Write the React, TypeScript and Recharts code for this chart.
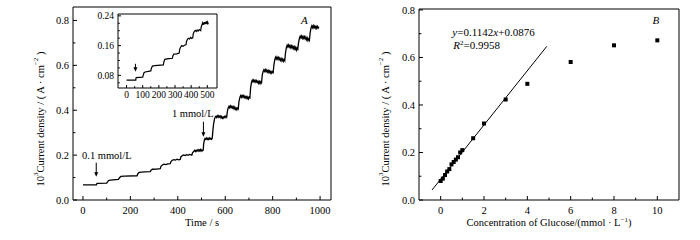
import {
  LineChart,
  ComposedChart,
  Line,
  Scatter,
  XAxis,
  YAxis,
  ReferenceArea,
  ReferenceDot,
  Label,
} from 'recharts'

const FONT = '"Liberation Serif", "Times New Roman", serif'

// amperometric trace: [time s, 10^3 current density]
const trace: [number, number][] = [
  [0, 0.067], [57, 0.067],
  [58, 0.072], [60, 0.074], [100, 0.075],
  [103, 0.08], [108, 0.087], [115, 0.089], [150, 0.092],
  [154, 0.099], [160, 0.105], [175, 0.106], [228, 0.108],
  [231, 0.116], [237, 0.123], [260, 0.125], [284, 0.126],
  [287, 0.133], [293, 0.137], [310, 0.138], [326, 0.14],
  [329, 0.15], [335, 0.156], [342, 0.16], [350, 0.158], [358, 0.161], [368, 0.162],
  [371, 0.171], [377, 0.177], [383, 0.18], [390, 0.178], [397, 0.182], [403, 0.179], [410, 0.181],
  [413, 0.192], [419, 0.198], [425, 0.201], [431, 0.198], [437, 0.202], [443, 0.199], [450, 0.203], [459, 0.2],
  [462, 0.21], [467, 0.216], [471, 0.221], [474, 0.216], [477, 0.222], [480, 0.217], [483, 0.223],
  [486, 0.218], [489, 0.224], [492, 0.219], [495, 0.225], [498, 0.218], [501, 0.223], [504, 0.219], [507, 0.222],
  [509, 0.25], [512, 0.268], [515, 0.274], [518, 0.27], [521, 0.276], [524, 0.27], [527, 0.275],
  [530, 0.27], [533, 0.276], [536, 0.271], [539, 0.275], [542, 0.27], [545, 0.274],
  [548, 0.31], [551, 0.34], [555, 0.362], [558, 0.37], [561, 0.374], [564, 0.368], [567, 0.375],
  [570, 0.369], [573, 0.376], [576, 0.37], [579, 0.374], [582, 0.366], [585, 0.372], [588, 0.364],
  [591, 0.37], [594, 0.365], [597, 0.372], [600, 0.368], [603, 0.374], [606, 0.369],
  [609, 0.395], [613, 0.412], [616, 0.418], [619, 0.411], [622, 0.419], [625, 0.412], [628, 0.418],
  [631, 0.41], [634, 0.416], [637, 0.406], [640, 0.414], [643, 0.404], [646, 0.41], [649, 0.402],
  [652, 0.41], [655, 0.406],
  [658, 0.44], [662, 0.458], [665, 0.465], [668, 0.458], [671, 0.466], [674, 0.459], [677, 0.465],
  [680, 0.456], [683, 0.463], [686, 0.455], [689, 0.46], [692, 0.452], [695, 0.459], [698, 0.45],
  [701, 0.458], [704, 0.455],
  [707, 0.5], [711, 0.526], [714, 0.534], [717, 0.527], [720, 0.535], [723, 0.527], [726, 0.533],
  [729, 0.525], [732, 0.532], [735, 0.524], [738, 0.53], [741, 0.52], [744, 0.528], [747, 0.519],
  [750, 0.527], [753, 0.522],
  [756, 0.555], [760, 0.574], [763, 0.58], [766, 0.573], [769, 0.581], [772, 0.572], [775, 0.579],
  [778, 0.57], [781, 0.577], [784, 0.568], [787, 0.575], [790, 0.566], [793, 0.573], [796, 0.565],
  [799, 0.572], [802, 0.568],
  [805, 0.6], [809, 0.627], [812, 0.636], [815, 0.628], [818, 0.637], [821, 0.628], [824, 0.635],
  [827, 0.625], [830, 0.632], [833, 0.622], [836, 0.63], [839, 0.62], [842, 0.628], [845, 0.618],
  [848, 0.626], [851, 0.62],
  [854, 0.655], [858, 0.68], [861, 0.69], [864, 0.682], [867, 0.691], [870, 0.681], [873, 0.689],
  [876, 0.679], [879, 0.687], [882, 0.677], [885, 0.685], [888, 0.675], [891, 0.683], [894, 0.672],
  [897, 0.68], [900, 0.668], [903, 0.678], [906, 0.672],
  [909, 0.7], [913, 0.722], [916, 0.73], [919, 0.722], [922, 0.731], [925, 0.721], [928, 0.729],
  [931, 0.72], [934, 0.728], [937, 0.718], [940, 0.726], [943, 0.714], [946, 0.722], [949, 0.71],
  [952, 0.718], [955, 0.712],
  [958, 0.745], [962, 0.768], [965, 0.776], [968, 0.768], [971, 0.777], [974, 0.767], [977, 0.775],
  [980, 0.766], [983, 0.774], [986, 0.765], [989, 0.773], [992, 0.766], [995, 0.772],
]

const timeTicks = [0, 100, 200, 300, 400, 500, 600, 700, 800, 900, 1000]
const currentTicks = [0, 0.1, 0.2, 0.3, 0.4, 0.5, 0.6, 0.7, 0.8]
const insetTimeTicks = [0, 50, 100, 150, 200, 250, 300, 350, 400, 450, 500]
const insetCurrentTicks = [0.06, 0.08, 0.1, 0.12, 0.14, 0.16, 0.18, 0.2, 0.22, 0.24]

// calibration: glucose (mmol/L) vs current density
const glucose = [0, 0.1, 0.2, 0.3, 0.4, 0.5, 0.6, 0.7, 0.8, 0.9, 1.0, 1.5, 2, 3, 4, 6, 8, 10]
const density = [0.08, 0.09, 0.105, 0.12, 0.13, 0.15, 0.16, 0.17, 0.18, 0.2, 0.21, 0.26, 0.322, 0.423, 0.489, 0.581, 0.651, 0.672]
const fitLine: [number, number][] = [[-0.4, 0.042], [4.9, 0.647]]
const concTicks = [0, 1, 2, 3, 4, 5, 6, 7, 8, 9, 10]

const traceData = trace.map(([t, v]) => ({ t, v }))
const insetData = traceData.filter((d) => d.t <= 507)
const calData = glucose.map((x, i) => ({ x, y: density[i] }))
const fitData = fitLine.map(([x, y]) => ({ x, y }))

type TickOpts = {
  major: (v: number) => boolean
  fmt: (v: number) => string
  size: number
  len: number
  gap: number
}

const bottomTick = (o: TickOpts) => (p: any) => {
  const v = p.payload.value
  const m = o.major(v)
  return (
    <g>
      <line x1={p.x} x2={p.x} y1={p.y} y2={p.y - (m ? o.len : o.len * 0.6)} stroke="#000" />
      {m && (
        <text x={p.x} y={p.y + o.gap} textAnchor="middle" fontSize={o.size} fontFamily={FONT} fill="#000">
          {o.fmt(v)}
        </text>
      )}
    </g>
  )
}

const leftTick = (o: TickOpts) => (p: any) => {
  const v = p.payload.value
  const m = o.major(v)
  return (
    <g>
      <line x1={p.x} x2={p.x + (m ? o.len : o.len * 0.6)} y1={p.y} y2={p.y} stroke="#000" />
      {m && (
        <text x={p.x - o.gap} y={p.y} dy="0.35em" textAnchor="end" fontSize={o.size} fontFamily={FONT} fill="#000">
          {o.fmt(v)}
        </text>
      )}
    </g>
  )
}

const yTitle = (dx: number) => (p: any) => {
  const x = p.viewBox.x + dx
  const y = 119
  return (
    <text
      x={x}
      y={y}
      transform={`rotate(-90 ${x} ${y})`}
      textAnchor="middle"
      dominantBaseline="central"
      fontSize={10.5}
      fontFamily={FONT}
      fill="#000"
    >
      10<tspan dy={-4} fontSize={7}>3</tspan>
      <tspan dy={4}>Current density / ( A · cm</tspan>
      <tspan dy={-4} fontSize={7}>−2</tspan>
      <tspan dy={4}> )</tspan>
    </text>
  )
}

const xTitle = (content: React.ReactNode) => (p: any) => (
  <text
    x={p.viewBox.x + p.viewBox.width / 2}
    y={p.viewBox.y + 26}
    textAnchor="middle"
    fontSize={10.5}
    fontFamily={FONT}
    fill="#000"
  >
    {content}
  </text>
)

const arrow = (len: number) => (p: any) => (
  <g>
    <line x1={p.cx} x2={p.cx} y1={p.cy - len} y2={p.cy - 3} stroke="#000" />
    <path d={`M${p.cx - 2},${p.cy - 4.5} L${p.cx + 2},${p.cy - 4.5} L${p.cx},${p.cy} Z`} fill="#000" />
  </g>
)

const note = (content: React.ReactNode, size = 10.5) => (p: any) => (
  <text x={p.cx} y={p.cy} fontSize={size} fontFamily={FONT} fill="#000">
    {content}
  </text>
)

const square = (p: any) => <rect x={p.cx - 2} y={p.cy - 2} width={4} height={4} fill="#000" />

const isEven10 = (v: number) => Math.round(v * 10) % 2 === 0

function TimeChart() {
  return (
    <LineChart width={350} height={240} data={traceData} margin={{ top: 7, right: 19, bottom: 0, left: 0 }}>
      <XAxis
        dataKey="t"
        type="number"
        domain={[-42, 1046]}
        ticks={timeTicks}
        interval={0}
        height={40}
        tickSize={0}
        tickMargin={0}
        tickLine={false}
        axisLine={false}
        tick={bottomTick({ major: (v) => v % 200 === 0, fmt: (v) => String(v), size: 10.5, len: 4, gap: 14 })}
      >
        <Label content={xTitle('Time / s')} />
      </XAxis>
      <YAxis
        type="number"
        domain={[0, 0.86]}
        ticks={currentTicks}
        interval={0}
        width={73}
        tickSize={0}
        tickMargin={0}
        tickLine={false}
        axisLine={false}
        allowDataOverflow
        tick={leftTick({ major: isEven10, fmt: (v) => v.toFixed(1), size: 10.5, len: 4, gap: 4 })}
      >
        <Label content={yTitle(40)} />
      </YAxis>
      <ReferenceArea x1={-42} x2={1046} y1={0} y2={0.86} fill="none" stroke="#000" strokeWidth={1} />
      <ReferenceDot x={-4} y={0.183} shape={note('0.1 mmol/L')} />
      <ReferenceDot x={56} y={0.104} shape={arrow(14)} />
      <ReferenceDot x={375} y={0.37} shape={note('1 mmol/L')} />
      <ReferenceDot x={508} y={0.282} shape={arrow(15)} />
      <ReferenceDot x={920} y={0.785} shape={note(<tspan fontStyle="italic">A</tspan>, 11)} />
      <Line type="linear" dataKey="v" stroke="#000" strokeWidth={1.3} dot={false} isAnimationActive={false} />
    </LineChart>
  )
}

function InsetChart() {
  return (
    <LineChart width={132} height={90} data={insetData} margin={{ top: 2, right: 5, bottom: 0, left: 0 }}>
      <XAxis
        dataKey="t"
        type="number"
        domain={[-53, 560]}
        ticks={insetTimeTicks}
        interval={0}
        height={14}
        tickSize={0}
        tickMargin={0}
        tickLine={false}
        axisLine={false}
        tick={bottomTick({ major: (v) => v % 100 === 0, fmt: (v) => String(v), size: 9.5, len: 3, gap: 10 })}
      />
      <YAxis
        type="number"
        domain={[0.046, 0.245]}
        ticks={insetCurrentTicks}
        interval={0}
        width={28}
        tickSize={0}
        tickMargin={0}
        tickLine={false}
        axisLine={false}
        allowDataOverflow
        tick={leftTick({
          major: (v) => Math.round(v * 100) % 8 === 0,
          fmt: (v) => v.toFixed(2),
          size: 9.5,
          len: 3,
          gap: 4,
        })}
      />
      <ReferenceArea x1={-53} x2={560} y1={0.046} y2={0.245} fill="none" stroke="#000" strokeWidth={1} />
      <ReferenceDot x={55} y={0.0895} shape={arrow(8)} />
      <Line type="linear" dataKey="v" stroke="#000" strokeWidth={1.2} dot={false} isAnimationActive={false} />
    </LineChart>
  )
}

function CalibrationChart() {
  return (
    <ComposedChart width={350} height={240} margin={{ top: 9, right: 21, bottom: 0, left: 0 }}>
      <XAxis
        dataKey="x"
        type="number"
        domain={[-1, 11]}
        ticks={concTicks}
        interval={0}
        height={40}
        tickSize={0}
        tickMargin={0}
        tickLine={false}
        axisLine={false}
        allowDataOverflow
        tick={bottomTick({ major: (v) => v % 2 === 0, fmt: (v) => String(v), size: 10.5, len: 4, gap: 14 })}
      >
        <Label
          content={xTitle(
            <>
              Concentration of Glucose/(mmol · L<tspan dy={-4} fontSize={7}>−1</tspan>
              <tspan dy={4}>)</tspan>
            </>,
          )}
        />
      </XAxis>
      <YAxis
        type="number"
        domain={[0, 0.804]}
        ticks={currentTicks}
        interval={0}
        width={69}
        tickSize={0}
        tickMargin={0}
        tickLine={false}
        axisLine={false}
        allowDataOverflow
        tick={leftTick({ major: isEven10, fmt: (v) => v.toFixed(1), size: 10.5, len: 4, gap: 4 })}
      >
        <Label content={yTitle(35)} />
      </YAxis>
      <ReferenceArea x1={-1} x2={11} y1={0} y2={0.804} fill="none" stroke="#000" strokeWidth={1} />
      <ReferenceDot
        x={0.54}
        y={0.69}
        shape={note(
          <>
            <tspan fontStyle="italic">y</tspan>=0.1142<tspan fontStyle="italic">x</tspan>+0.0876
          </>,
          11,
        )}
      />
      <ReferenceDot
        x={0.58}
        y={0.636}
        shape={note(
          <>
            <tspan fontStyle="italic">R</tspan>
            <tspan dy={-4} fontSize={7}>2</tspan>
            <tspan dy={4}>=0.9958</tspan>
          </>,
          11,
        )}
      />
      <ReferenceDot x={9.78} y={0.74} shape={note(<tspan fontStyle="italic">B</tspan>, 11)} />
      <Line data={fitData} type="linear" dataKey="y" stroke="#000" strokeWidth={1} dot={false} isAnimationActive={false} />
      <Scatter data={calData} dataKey="y" shape={square} isAnimationActive={false} />
    </ComposedChart>
  )
}

export default function App() {
  return (
    <div style={{ position: 'absolute', left: 0, top: 0, width: 700, height: 240, background: '#fff' }}>
      <div style={{ position: 'absolute', left: 0, top: 0 }}>
        <TimeChart />
      </div>
      <div style={{ position: 'absolute', left: 90, top: 12 }}>
        <InsetChart />
      </div>
      <div style={{ position: 'absolute', left: 350, top: 0 }}>
        <CalibrationChart />
      </div>
    </div>
  )
}
